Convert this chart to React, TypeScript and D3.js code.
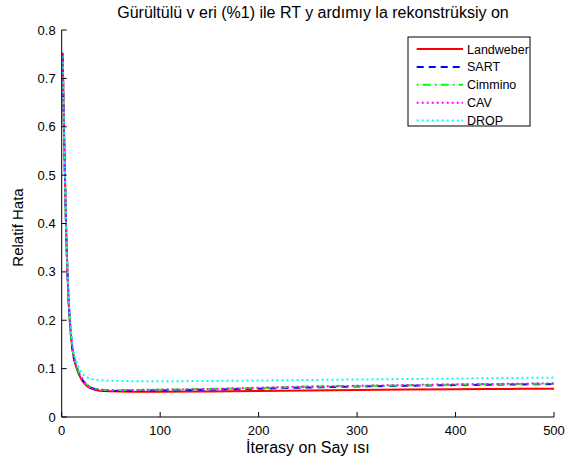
import React from "react";
import * as d3 from "d3";

const iterations = [1, 2, 3, 4, 5, 6, 7, 8, 10, 12, 14, 16, 18, 20, 25, 30, 35, 40, 50, 60, 80, 100, 150, 200, 250, 300, 350, 400, 450, 500];
const landweber = [0.753, 0.63, 0.53, 0.43, 0.35, 0.29, 0.24, 0.205, 0.155, 0.125, 0.108, 0.096, 0.086, 0.078, 0.065, 0.059, 0.056, 0.054, 0.053, 0.0525, 0.052, 0.052, 0.0528, 0.0538, 0.055, 0.056, 0.0568, 0.0575, 0.058, 0.0585];
const sart = [0.745, 0.625, 0.525, 0.43, 0.35, 0.29, 0.242, 0.207, 0.157, 0.127, 0.11, 0.098, 0.088, 0.08, 0.067, 0.06, 0.057, 0.055, 0.054, 0.054, 0.0545, 0.055, 0.0565, 0.0585, 0.061, 0.063, 0.0645, 0.066, 0.067, 0.068];
const cimmino = [0.748, 0.628, 0.528, 0.432, 0.352, 0.292, 0.243, 0.208, 0.158, 0.128, 0.111, 0.099, 0.089, 0.081, 0.068, 0.061, 0.058, 0.0565, 0.0555, 0.0555, 0.056, 0.0565, 0.058, 0.06, 0.0625, 0.064, 0.0655, 0.067, 0.068, 0.069];
const cav = [0.75, 0.63, 0.53, 0.433, 0.353, 0.293, 0.244, 0.209, 0.159, 0.129, 0.112, 0.1, 0.09, 0.082, 0.068, 0.061, 0.058, 0.0565, 0.0555, 0.0555, 0.056, 0.0565, 0.058, 0.0605, 0.063, 0.0645, 0.066, 0.0675, 0.0685, 0.0695];
const drop = [0.745, 0.628, 0.53, 0.435, 0.356, 0.297, 0.25, 0.215, 0.167, 0.138, 0.12, 0.108, 0.099, 0.092, 0.083, 0.079, 0.077, 0.076, 0.075, 0.0745, 0.074, 0.074, 0.0745, 0.0755, 0.0765, 0.0775, 0.0785, 0.0795, 0.0805, 0.0815];

const seriesNames = ["Landweber", "SART", "Cimmino", "CAV", "DROP"];
const seriesValues = [landweber, sart, cimmino, cav, drop];
const seriesColors = ["#ff0000", "#0000ff", "#00ff00", "#ff00ff", "#00ffff"];
const seriesDash = ["none", "7,5", "2,4,8,4", "2,3", "2,3"];

const xTicks = [0, 100, 200, 300, 400, 500];
const yTicks = [0, 0.1, 0.2, 0.3, 0.4, 0.5, 0.6, 0.7, 0.8];

const title = "Gürültülü v eri (%1) ile RT y ardımıy la rekonstrüksiy on";
const xLabel = "İterasy on Say ısı";
const yLabel = "Relatif Hata";

const W = 580;
const H = 463;
const left = 61.7;
const right = 554;
const top = 30;
const bottom = 417;
const font = "'Liberation Sans', Arial, sans-serif";

export default function App() {
  const x = d3.scaleLinear().domain([0, 500]).range([left, right]);
  const y = d3.scaleLinear().domain([0, 0.8]).range([bottom, top]);
  const line = d3
    .line<number>()
    .x((_, i) => x(iterations[i]))
    .y((v) => y(v))
    .curve(d3.curveMonotoneX);

  const legX = 408;
  const legY = 37;
  const legW = 122;
  const legH = 89;
  const rowH = 17.9;

  return (
    <svg
      width={W}
      height={H}
      style={{ position: "absolute", left: 0, top: 0, background: "#fff" }}
      fontFamily={font}
      fontSize={13}
    >
      <rect x={0} y={0} width={W} height={H} fill="#fff" />
      <defs>
        <clipPath id="plotclip">
          <rect x={left} y={top - 5} width={right - left} height={bottom - top + 5} />
        </clipPath>
      </defs>
      <g clipPath="url(#plotclip)">
        {seriesValues.map((vals, k) => (
          <path
            key={seriesNames[k]}
            d={line(vals) || ""}
            fill="none"
            stroke={seriesColors[k]}
            strokeWidth={2}
            strokeDasharray={seriesDash[k]}
          />
        ))}
      </g>
      {/* axes */}
      <line x1={left} x2={left} y1={top} y2={bottom} stroke="#000" strokeWidth={1} />
      <line x1={left} x2={right} y1={bottom} y2={bottom} stroke="#000" strokeWidth={1} />
      {yTicks.map((t) => (
        <g key={"y" + t}>
          <line x1={left} x2={left + 5} y1={y(t)} y2={y(t)} stroke="#000" />
          <text x={left - 6} y={y(t) + 4.5} textAnchor="end" fill="#000">
            {t === 0 ? "0" : t.toFixed(1)}
          </text>
        </g>
      ))}
      {xTicks.map((t) => (
        <g key={"x" + t}>
          <line x1={x(t)} x2={x(t)} y1={bottom} y2={bottom - 5} stroke="#000" />
          <text x={x(t)} y={bottom + 18} textAnchor="middle" fill="#000">
            {t}
          </text>
        </g>
      ))}
      <text x={313} y={18} textAnchor="middle" fill="#000" fontSize={16}>
        {title}
      </text>
      <text x={(left + right) / 2} y={453} textAnchor="middle" fill="#000" fontSize={16}>
        {xLabel}
      </text>
      <text
        transform={`translate(23, ${(top + bottom) / 2 + 4}) rotate(-90)`}
        textAnchor="middle"
        fill="#000"
        fontSize={15}
      >
        {yLabel}
      </text>
      {/* legend */}
      <rect x={legX} y={legY} width={legW} height={legH} fill="#fff" stroke="#000" strokeWidth={1} />
      {seriesNames.map((name, k) => {
        const ry = legY + 12 + k * rowH;
        return (
          <g key={"leg" + name}>
            <line
              x1={416.7}
              x2={463}
              y1={ry}
              y2={ry}
              stroke={seriesColors[k]}
              strokeWidth={2}
              strokeDasharray={seriesDash[k]}
            />
            <text x={467} y={ry + 4.5} fill="#000" fontSize={12.5}>
              {name}
            </text>
          </g>
        );
      })}
    </svg>
  );
}
